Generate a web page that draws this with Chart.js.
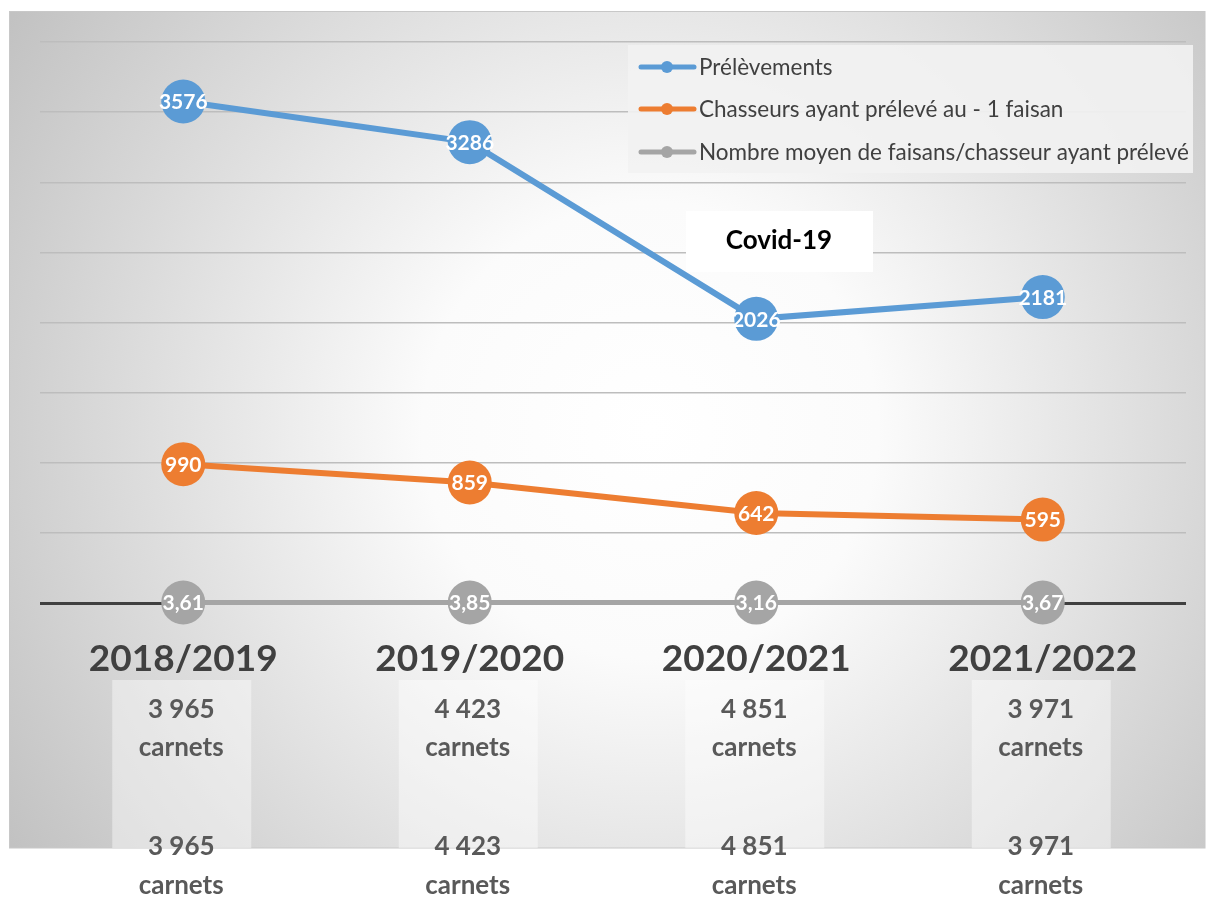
<!DOCTYPE html>
<html>
<head>
<meta charset="utf-8">
<script src="https://cdn.jsdelivr.net/npm/chart.js@4"></script>
<style>
    html, body { margin: 0; padding: 0; background: #fff; }
    #wrap { width: 1208px; height: 898px; }
</style>
</head>
<body>
<div id="wrap"><canvas id="chart" width="1208" height="898"></canvas></div>
<script>
// Data
const seasons = ['2018/2019', '2019/2020', '2020/2021', '2021/2022'];
const carnets = ['3 965', '4 423', '4 851', '3 971'];
const prelevements = [3576, 3286, 2026, 2181];
const chasseurs = [990, 859, 642, 595];
const moyenne = [3.61, 3.85, 3.16, 3.67];
const seriesLabels = [
    'Prélèvements',
    'Chasseurs ayant prélevé au - 1 faisan',
    'Nombre moyen de faisans/chasseur ayant prélevé'
];
const annotationText = 'Covid-19';

const FONT = 'Lato, "Open Sans", sans-serif';
const BLUE = '#5B9BD5';
const ORANGE = '#ED7D31';
const GREY = '#A5A5A5';

function fmtValue(v) {
    // French decimal comma
    return Number.isInteger(v) ? String(v) : v.toFixed(2).replace('.', ',');
}

// Background frame with radial gradient
const backgroundPlugin = {
    id: 'background',
    beforeDraw(chart) {
        const ctx = chart.ctx;
        ctx.save();
        ctx.fillStyle = '#ffffff';
        ctx.fillRect(0, 0, chart.width, chart.height);
        const g = ctx.createRadialGradient(650, 430, 0, 650, 430, 760);
        g.addColorStop(0, '#ffffff');
        g.addColorStop(0.3, '#fbfbfb');
        g.addColorStop(1, '#c2c2c2');
        ctx.fillStyle = g;
        ctx.fillRect(9.5, 11.5, 1195.5, 836.5);
        ctx.strokeStyle = '#c8c8c8';
        ctx.lineWidth = 1;
        ctx.strokeRect(9.5, 11.5, 1195.5, 836.5);
        ctx.restore();
    }
};

// Category labels and "carnets" boxes under the axis
const categoryPlugin = {
    id: 'categories',
    afterDraw(chart) {
        const ctx = chart.ctx;
        const xScale = chart.scales.x;
        ctx.save();
        ctx.textAlign = 'center';
        ctx.textBaseline = 'middle';
        seasons.forEach((s, i) => {
            const x = xScale.getPixelForValue(i);
            ctx.fillStyle = 'rgba(255,255,255,0.42)';
            ctx.fillRect(x - 71, 680, 139, 168);
            ctx.fillStyle = '#404040';
            ctx.font = 'bold 37px ' + FONT;
            ctx.fillText(s, x, 659);
            ctx.fillStyle = '#595959';
            ctx.font = 'bold 26px ' + FONT;
            ctx.fillText(carnets[i], x - 2, 710);
            ctx.fillText('carnets', x - 2, 748);
            ctx.fillText(carnets[i], x - 2, 847);
            ctx.fillText('carnets', x - 2, 886);
        });
        ctx.restore();
    }
};

// Covid box, point labels, legend
const overlayPlugin = {
    id: 'overlay',
    afterDatasetsDraw(chart) {
        const ctx = chart.ctx;
        ctx.save();

        // Covid-19 annotation
        ctx.fillStyle = '#ffffff';
        ctx.fillRect(686, 211, 187, 61);
        ctx.fillStyle = '#000000';
        ctx.font = 'bold 26px ' + FONT;
        ctx.textAlign = 'center';
        ctx.textBaseline = 'middle';
        ctx.fillText(annotationText, 779, 241);

        // data labels
        ctx.font = 'bold 21px ' + FONT;
        ctx.fillStyle = '#ffffff';
        chart.data.datasets.forEach((ds, di) => {
            const meta = chart.getDatasetMeta(di);
            meta.data.forEach((pt, i) => {
                ctx.fillText(fmtValue(ds.data[i]), pt.x, pt.y + 1);
            });
        });

        // legend
        ctx.fillStyle = 'rgba(242,242,242,0.9)';
        ctx.fillRect(628, 45, 565, 128);
        const rows = [67, 109, 152];
        ctx.textAlign = 'left';
        ctx.font = '22.5px ' + FONT;
        chart.data.datasets.forEach((ds, di) => {
            const y = rows[di];
            ctx.strokeStyle = ds.borderColor;
            ctx.lineWidth = 5;
            ctx.lineCap = 'round';
            ctx.beginPath();
            ctx.moveTo(641, y);
            ctx.lineTo(694, y);
            ctx.stroke();
            ctx.fillStyle = ds.borderColor;
            ctx.beginPath();
            ctx.arc(667, y, 6, 0, Math.PI * 2);
            ctx.fill();
            ctx.fillStyle = '#404040';
            ctx.fillText(ds.label, 699, y + 1);
        });
        ctx.restore();
    }
};

const ctx = document.getElementById('chart').getContext('2d');
new Chart(ctx, {
    type: 'line',
    data: {
        labels: seasons,
        datasets: [
            {
                label: seriesLabels[0],
                data: prelevements,
                borderColor: BLUE,
                backgroundColor: BLUE,
                pointBackgroundColor: BLUE,
                borderWidth: 6,
                pointRadius: 22,
                pointBorderWidth: 0,
                tension: 0,
                clip: false
            },
            {
                label: seriesLabels[1],
                data: chasseurs,
                borderColor: ORANGE,
                backgroundColor: ORANGE,
                pointBackgroundColor: ORANGE,
                borderWidth: 6,
                pointRadius: 22,
                pointBorderWidth: 0,
                tension: 0,
                clip: false
            },
            {
                label: seriesLabels[2],
                data: moyenne,
                borderColor: GREY,
                backgroundColor: GREY,
                pointBackgroundColor: GREY,
                borderWidth: 5,
                pointRadius: 22,
                pointBorderWidth: 0,
                tension: 0,
                clip: false
            }
        ]
    },
    options: {
        responsive: false,
        animation: false,
        layout: {
            padding: { left: 40, right: 18, top: 42, bottom: 295 }
        },
        plugins: {
            legend: { display: false },
            tooltip: { enabled: false }
        },
        scales: {
            x: {
                offset: true,
                ticks: { display: false },
                grid: { display: false, drawTicks: false },
                border: { display: false },
                afterFit(scale) {
                    scale.height = 0;
                    scale.paddingLeft = 0;
                    scale.paddingRight = 0;
                }
            },
            y: {
                min: 0,
                max: 4000,
                ticks: { display: false, stepSize: 500 },
                grid: {
                    drawTicks: false,
                    color: c => c.tick && c.tick.value === 0 ? '#404040' : '#bdbdbd',
                    lineWidth: c => c.tick && c.tick.value === 0 ? 3 : 1.5
                },
                border: { display: false },
                afterFit(scale) {
                    scale.width = 0;
                    scale.paddingTop = 0;
                    scale.paddingBottom = 0;
                }
            }
        }
    },
    plugins: [backgroundPlugin, overlayPlugin, categoryPlugin]
});
</script>
</body>
</html>
